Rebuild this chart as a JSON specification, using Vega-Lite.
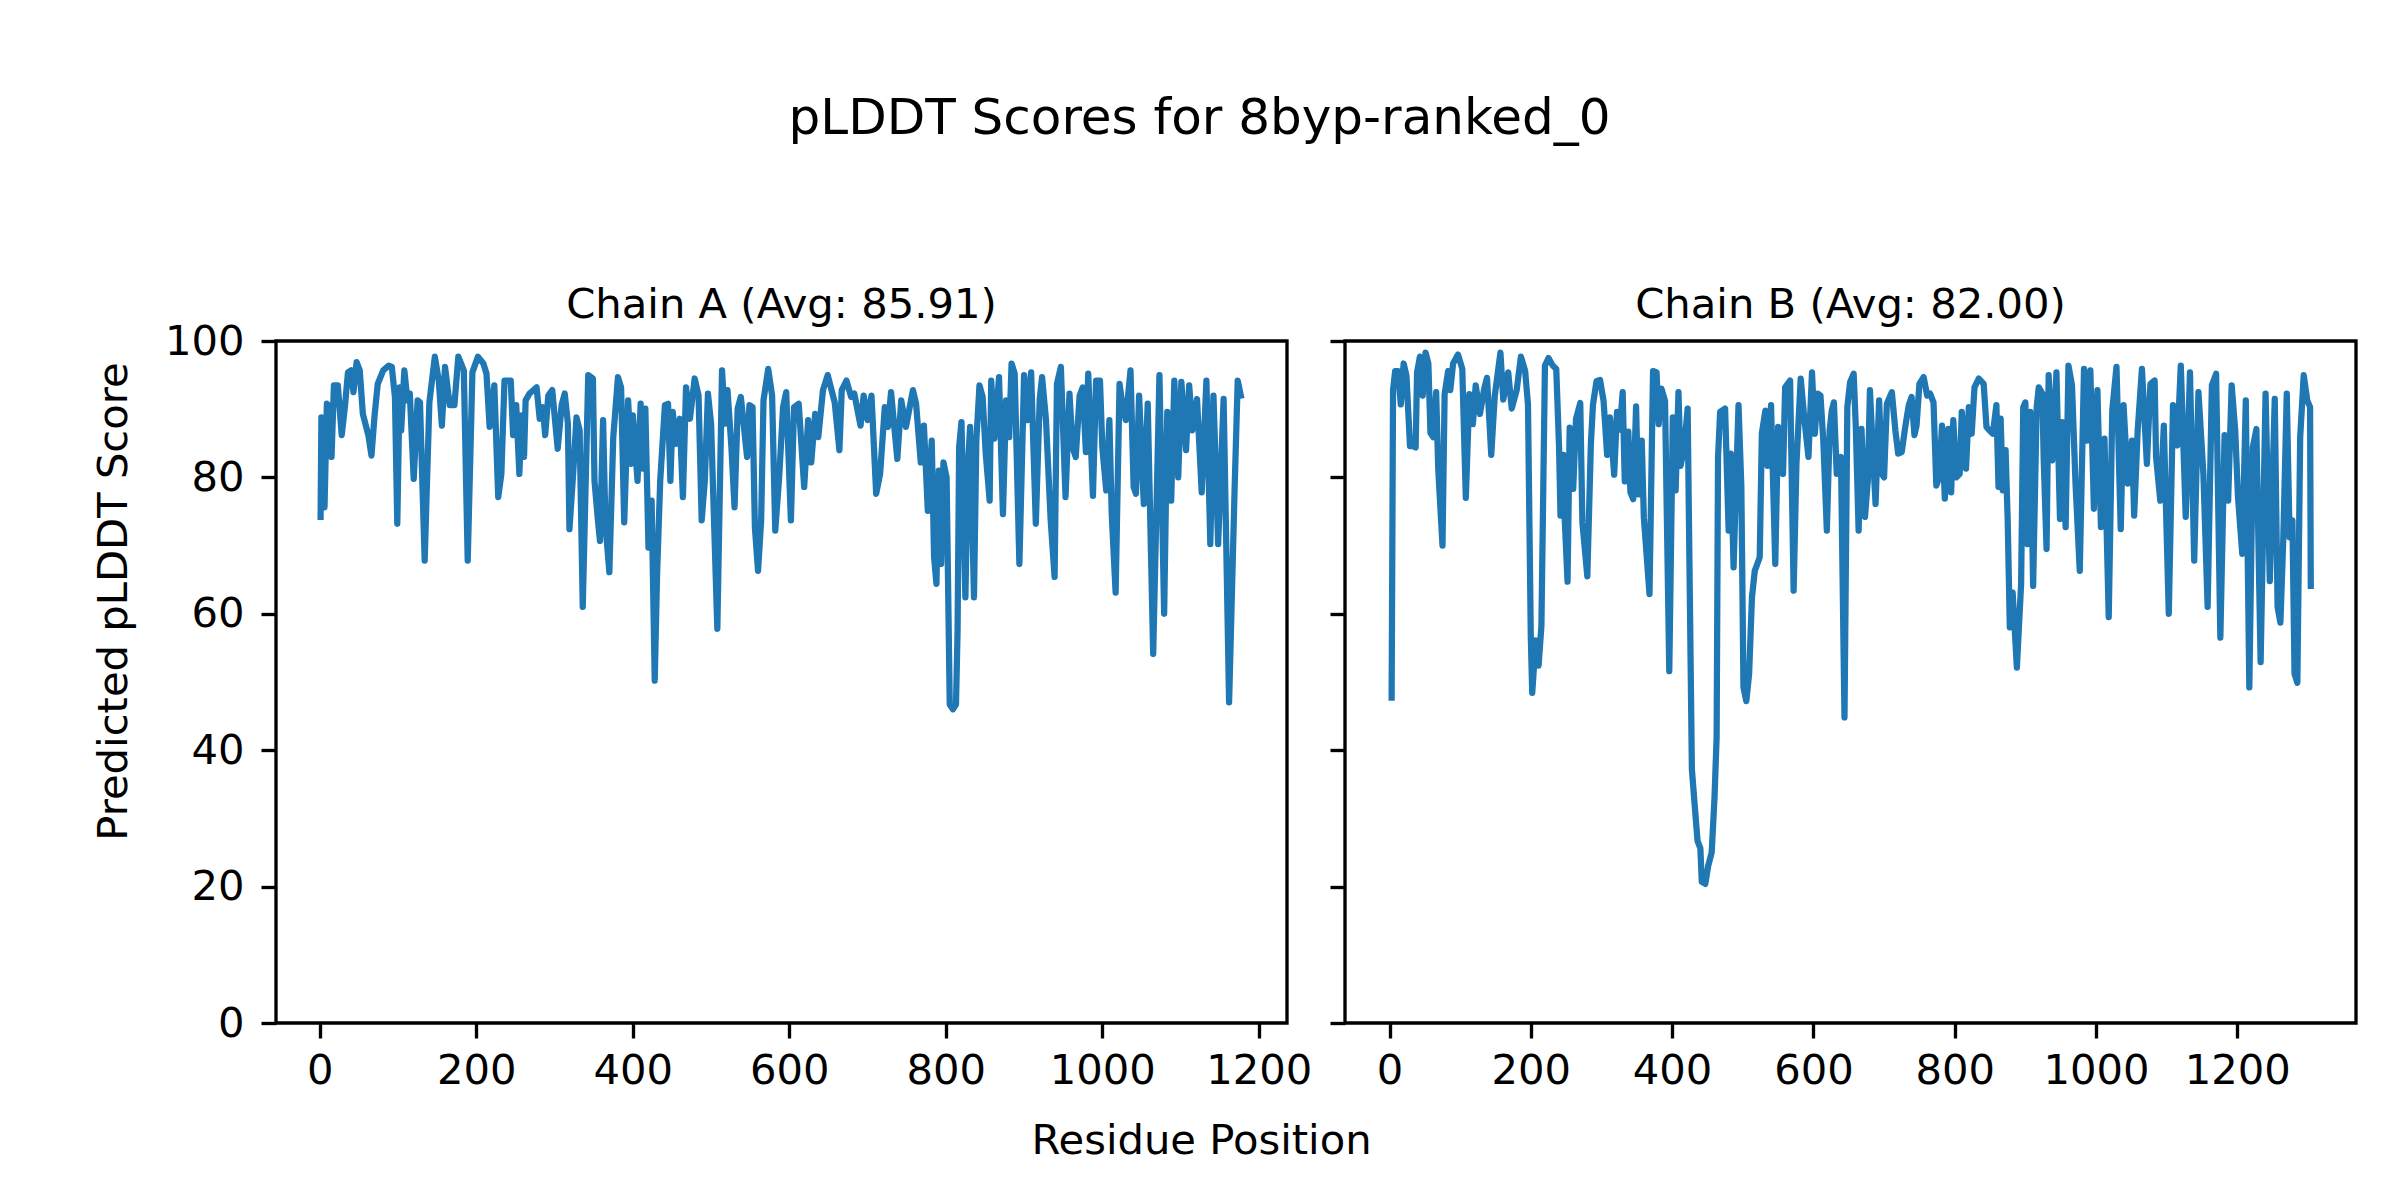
{
  "$schema": "https://vega.github.io/schema/vega-lite/v6.json",
  "background": "white",
  "padding": {"left": 91, "top": 93, "right": 45, "bottom": 30},
  "title": {"text": "pLDDT Scores for 8byp-ranked_0", "fontSize": 50, "anchor": "middle", "offset": 99, "baseline": "alphabetic", "dx": -25},
  "datasets": {
    "A": [
      {"r":1,"v":74.2},{"r":2,"v":88.8},{"r":6,"v":75.6},{"r":9,"v":90.8},{"r":11,"v":90.6},{"r":15,"v":83},{"r":18,"v":93.5},{"r":23,"v":93.5},{"r":28,"v":86.2},{"r":32,"v":90.3},{"r":36,"v":95.4},{"r":40,"v":95.7},{"r":43,"v":92.5},{"r":47,"v":96.9},{"r":51,"v":95.7},{"r":55,"v":89.3},{"r":62,"v":86.2},{"r":66,"v":83.2},{"r":70,"v":89.1},{"r":74,"v":93.7},{"r":81,"v":95.7},{"r":88,"v":96.4},{"r":92,"v":96.2},{"r":96,"v":91.8},{"r":99,"v":73.2},{"r":102,"v":93.2},{"r":104,"v":86.9},{"r":108,"v":95.7},{"r":112,"v":91.3},{"r":115,"v":92.3},{"r":120,"v":79.8},{"r":125,"v":91.3},{"r":128,"v":91},{"r":134,"v":67.8},{"r":140,"v":91},{"r":147,"v":97.7},{"r":152,"v":94.2},{"r":156,"v":87.6},{"r":160,"v":96.2},{"r":166,"v":90.6},{"r":172,"v":90.6},{"r":177,"v":97.7},{"r":184,"v":95.7},{"r":189,"v":67.8},{"r":195,"v":95.4},{"r":202,"v":97.7},{"r":209,"v":96.7},{"r":213,"v":95.2},{"r":217,"v":87.4},{"r":223,"v":93.5},{"r":228,"v":77.1},{"r":232,"v":80.5},{"r":236,"v":94.2},{"r":244,"v":94.2},{"r":247,"v":86.2},{"r":251,"v":90.6},{"r":255,"v":80.5},{"r":258,"v":89.1},{"r":261,"v":83},{"r":263,"v":91.3},{"r":268,"v":92.3},{"r":277,"v":93.2},{"r":281,"v":88.6},{"r":285,"v":90.3},{"r":288,"v":86.2},{"r":292,"v":92},{"r":297,"v":92.8},{"r":304,"v":84.2},{"r":309,"v":90.6},{"r":313,"v":92.3},{"r":317,"v":87.9},{"r":319,"v":72.4},{"r":324,"v":81},{"r":328,"v":88.8},{"r":332,"v":86.9},{"r":336,"v":61},{"r":343,"v":95},{"r":349,"v":94.5},{"r":351,"v":79.5},{"r":355,"v":74.2},{"r":358,"v":70.7},{"r":362,"v":88.4},{"r":365,"v":73.2},{"r":370,"v":66.1},{"r":375,"v":85.9},{"r":381,"v":94.7},{"r":385,"v":93.2},{"r":389,"v":73.4},{"r":394,"v":91.3},{"r":398,"v":82},{"r":400,"v":89.1},{"r":406,"v":79.5},{"r":410,"v":90.8},{"r":413,"v":81.3},{"r":416,"v":90.1},{"r":420,"v":69.7},{"r":424,"v":76.6},{"r":428,"v":50.2},{"r":431,"v":65.8},{"r":435,"v":79.5},{"r":441,"v":90.6},{"r":445,"v":90.8},{"r":448,"v":79.5},{"r":451,"v":89.6},{"r":455,"v":84.9},{"r":460,"v":88.6},{"r":464,"v":77.1},{"r":468,"v":93.2},{"r":473,"v":88.6},{"r":479,"v":94.5},{"r":484,"v":92},{"r":488,"v":73.7},{"r":492,"v":79.5},{"r":496,"v":92.3},{"r":500,"v":87.9},{"r":508,"v":57.8},{"r":514,"v":95.7},{"r":518,"v":87.9},{"r":521,"v":92.8},{"r":526,"v":84.4},{"r":530,"v":75.6},{"r":534,"v":90.1},{"r":538,"v":91.8},{"r":542,"v":87.4},{"r":546,"v":83},{"r":549,"v":90.6},{"r":553,"v":90.3},{"r":556,"v":72.7},{"r":560,"v":66.3},{"r":564,"v":73.7},{"r":567,"v":91.3},{"r":573,"v":95.9},{"r":578,"v":92},{"r":582,"v":72.2},{"r":587,"v":80},{"r":592,"v":90.3},{"r":596,"v":92.5},{"r":602,"v":73.7},{"r":606,"v":90.3},{"r":612,"v":90.8},{"r":619,"v":78.6},{"r":624,"v":88.4},{"r":628,"v":82.2},{"r":633,"v":89.3},{"r":637,"v":85.9},{"r":643,"v":92.8},{"r":649,"v":95},{"r":658,"v":91},{"r":664,"v":84},{"r":667,"v":92.8},{"r":673,"v":94.2},{"r":679,"v":91.8},{"r":683,"v":92.3},{"r":691,"v":87.6},{"r":695,"v":92},{"r":700,"v":88.4},{"r":705,"v":92},{"r":711,"v":77.6},{"r":716,"v":80.5},{"r":722,"v":90.3},{"r":726,"v":87.4},{"r":730,"v":92.5},{"r":738,"v":82.7},{"r":743,"v":91.3},{"r":749,"v":87.4},{"r":758,"v":92.8},{"r":762,"v":90.8},{"r":768,"v":82.2},{"r":772,"v":87.6},{"r":777,"v":75.1},{"r":782,"v":85.4},{"r":785,"v":68.3},{"r":788,"v":64.4},{"r":791,"v":81},{"r":794,"v":67.3},{"r":797,"v":82.2},{"r":801,"v":80},{"r":805,"v":46.7},{"r":809,"v":46},{"r":813,"v":46.7},{"r":815,"v":57.5},{"r":817,"v":84.4},{"r":820,"v":88.1},{"r":825,"v":62.4},{"r":828,"v":81},{"r":831,"v":87.4},{"r":836,"v":62.4},{"r":839,"v":85.4},{"r":843,"v":93.5},{"r":847,"v":91.8},{"r":851,"v":83.5},{"r":856,"v":76.6},{"r":858,"v":94.2},{"r":862,"v":85.7},{"r":868,"v":94.7},{"r":873,"v":74.6},{"r":877,"v":91.3},{"r":881,"v":85.9},{"r":884,"v":96.7},{"r":888,"v":95.2},{"r":894,"v":67.3},{"r":900,"v":95},{"r":905,"v":88.4},{"r":909,"v":95.4},{"r":915,"v":73.2},{"r":920,"v":91.5},{"r":923,"v":94.7},{"r":928,"v":88.4},{"r":934,"v":73.7},{"r":939,"v":65.4},{"r":942,"v":93.7},{"r":947,"v":96.2},{"r":953,"v":77.1},{"r":958,"v":92.3},{"r":962,"v":84.4},{"r":966,"v":83},{"r":971,"v":92},{"r":975,"v":93.2},{"r":979,"v":83.7},{"r":982,"v":95.2},{"r":988,"v":77.3},{"r":992,"v":94.2},{"r":997,"v":94.2},{"r":1000,"v":84.4},{"r":1005,"v":78.1},{"r":1009,"v":88.4},{"r":1012,"v":74.6},{"r":1017,"v":63.1},{"r":1022,"v":93.7},{"r":1026,"v":90.3},{"r":1030,"v":88.4},{"r":1036,"v":95.7},{"r":1040,"v":78.6},{"r":1043,"v":77.6},{"r":1047,"v":92},{"r":1053,"v":76.1},{"r":1058,"v":90.8},{"r":1065,"v":54.1},{"r":1073,"v":95},{"r":1079,"v":60},{"r":1083,"v":89.6},{"r":1088,"v":76.6},{"r":1092,"v":94.2},{"r":1097,"v":80},{"r":1101,"v":94},{"r":1107,"v":84},{"r":1111,"v":93.5},{"r":1115,"v":86.9},{"r":1121,"v":91.5},{"r":1127,"v":77.8},{"r":1133,"v":94.2},{"r":1138,"v":70.2},{"r":1142,"v":92},{"r":1148,"v":70.2},{"r":1155,"v":91.5},{"r":1162,"v":47},{"r":1169,"v":78.1},{"r":1173,"v":94.2},{"r":1177,"v":92}
    ],
    "B": [
      {"r":3,"v":47.7},{"r":5,"v":92.8},{"r":8,"v":95.6},{"r":12,"v":95.6},{"r":16,"v":90.7},{"r":20,"v":96.7},{"r":24,"v":94.9},{"r":29,"v":84.6},{"r":33,"v":84.6},{"r":37,"v":84.4},{"r":39,"v":95.4},{"r":43,"v":97.7},{"r":47,"v":92},{"r":51,"v":98.3},{"r":55,"v":96.7},{"r":58,"v":86.5},{"r":62,"v":85.9},{"r":66,"v":92.5},{"r":69,"v":81.2},{"r":75,"v":70},{"r":78,"v":92.2},{"r":83,"v":95.6},{"r":86,"v":92.8},{"r":90,"v":96.7},{"r":97,"v":98},{"r":103,"v":95.9},{"r":108,"v":77},{"r":113,"v":92.2},{"r":118,"v":87.8},{"r":122,"v":93.5},{"r":128,"v":89.3},{"r":134,"v":93},{"r":138,"v":94.6},{"r":144,"v":83.3},{"r":149,"v":92},{"r":157,"v":98.3},{"r":161,"v":91.4},{"r":168,"v":95.4},{"r":173,"v":90.1},{"r":180,"v":92.8},{"r":186,"v":97.7},{"r":192,"v":95.6},{"r":196,"v":90.7},{"r":200,"v":56.6},{"r":202,"v":48.4},{"r":207,"v":56.1},{"r":211,"v":52.4},{"r":215,"v":58.2},{"r":220,"v":96.4},{"r":225,"v":97.5},{"r":231,"v":96.4},{"r":236,"v":95.9},{"r":240,"v":84.4},{"r":242,"v":74.4},{"r":246,"v":83.3},{"r":248,"v":73.9},{"r":252,"v":64.7},{"r":255,"v":87.3},{"r":260,"v":78.3},{"r":264,"v":88.6},{"r":270,"v":90.9},{"r":273,"v":73.4},{"r":280,"v":65.5},{"r":285,"v":84.9},{"r":288,"v":90.7},{"r":293,"v":94.1},{"r":298,"v":94.3},{"r":303,"v":91.2},{"r":308,"v":83.3},{"r":312,"v":88.8},{"r":318,"v":80.4},{"r":322,"v":89.6},{"r":326,"v":87},{"r":330,"v":92.5},{"r":333,"v":79.4},{"r":338,"v":86.7},{"r":341,"v":77.8},{"r":345,"v":76.8},{"r":349,"v":90.4},{"r":352,"v":77.5},{"r":357,"v":85.4},{"r":360,"v":74.1},{"r":368,"v":62.9},{"r":373,"v":95.6},{"r":378,"v":95.4},{"r":381,"v":87.8},{"r":385,"v":93},{"r":390,"v":91.2},{"r":396,"v":51.6},{"r":401,"v":88.8},{"r":405,"v":78.1},{"r":409,"v":92.5},{"r":412,"v":81.7},{"r":417,"v":84.4},{"r":422,"v":90.1},{"r":425,"v":63.4},{"r":428,"v":37.2},{"r":432,"v":31.9},{"r":436,"v":26.7},{"r":440,"v":25.6},{"r":442,"v":20.7},{"r":447,"v":20.4},{"r":451,"v":23},{"r":456,"v":25},{"r":460,"v":33},{"r":463,"v":41.9},{"r":465,"v":83},{"r":468,"v":89.6},{"r":475,"v":90.1},{"r":480,"v":72.2},{"r":483,"v":83.5},{"r":487,"v":66.8},{"r":490,"v":77.1},{"r":494,"v":90.6},{"r":498,"v":78.6},{"r":501,"v":49.2},{"r":505,"v":47.2},{"r":509,"v":51.2},{"r":513,"v":62.4},{"r":517,"v":66.3},{"r":524,"v":68.3},{"r":527,"v":86.4},{"r":532,"v":89.8},{"r":535,"v":81.7},{"r":540,"v":90.6},{"r":546,"v":67.3},{"r":550,"v":87.4},{"r":557,"v":80.5},{"r":560,"v":93.2},{"r":567,"v":94.2},{"r":572,"v":63.4},{"r":576,"v":82},{"r":582,"v":94.5},{"r":587,"v":88.8},{"r":593,"v":83},{"r":598,"v":95.4},{"r":602,"v":86.4},{"r":606,"v":92.3},{"r":610,"v":92},{"r":614,"v":85.4},{"r":619,"v":72.2},{"r":623,"v":86.9},{"r":626,"v":89.8},{"r":629,"v":91},{"r":633,"v":80.5},{"r":639,"v":83},{"r":644,"v":44.8},{"r":648,"v":90.3},{"r":652,"v":94},{"r":657,"v":95.2},{"r":660,"v":87.4},{"r":664,"v":72.2},{"r":668,"v":87.1},{"r":673,"v":74.2},{"r":677,"v":79.5},{"r":680,"v":92.8},{"r":685,"v":82},{"r":688,"v":76.1},{"r":693,"v":91.3},{"r":697,"v":80.5},{"r":700,"v":80},{"r":704,"v":90.8},{"r":711,"v":92.5},{"r":716,"v":86.9},{"r":720,"v":83.5},{"r":725,"v":83.7},{"r":730,"v":87.4},{"r":735,"v":90.6},{"r":739,"v":91.8},{"r":743,"v":86.2},{"r":746,"v":87.6},{"r":750,"v":93.7},{"r":756,"v":94.7},{"r":761,"v":92},{"r":765,"v":92.3},{"r":770,"v":91},{"r":774,"v":78.8},{"r":778,"v":80},{"r":782,"v":87.6},{"r":786,"v":76.9},{"r":791,"v":87.1},{"r":795,"v":77.8},{"r":798,"v":88.4},{"r":802,"v":80},{"r":807,"v":80.5},{"r":810,"v":89.6},{"r":816,"v":81.3},{"r":820,"v":90.3},{"r":824,"v":86.4},{"r":828,"v":93.2},{"r":834,"v":94.5},{"r":841,"v":93.7},{"r":845,"v":87.4},{"r":849,"v":86.9},{"r":854,"v":86.4},{"r":859,"v":90.6},{"r":862,"v":78.6},{"r":865,"v":88.6},{"r":868,"v":78.1},{"r":872,"v":84},{"r":875,"v":73.7},{"r":878,"v":58},{"r":882,"v":63.1},{"r":888,"v":52.1},{"r":894,"v":64.4},{"r":897,"v":90.3},{"r":900,"v":91},{"r":903,"v":70.2},{"r":907,"v":89.6},{"r":911,"v":64.1},{"r":916,"v":90.3},{"r":919,"v":93.2},{"r":924,"v":92.3},{"r":926,"v":82.5},{"r":930,"v":69.5},{"r":933,"v":95},{"r":938,"v":82.5},{"r":944,"v":95.4},{"r":949,"v":73.9},{"r":952,"v":88.1},{"r":957,"v":72.7},{"r":961,"v":96.4},{"r":966,"v":93.5},{"r":971,"v":79.1},{"r":977,"v":66.3},{"r":983,"v":95.9},{"r":987,"v":85.4},{"r":992,"v":95.7},{"r":997,"v":75.4},{"r":1002,"v":92.8},{"r":1007,"v":72.7},{"r":1012,"v":85.7},{"r":1018,"v":59.5},{"r":1023,"v":89.8},{"r":1029,"v":96.2},{"r":1035,"v":72.4},{"r":1039,"v":90.6},{"r":1045,"v":79.1},{"r":1051,"v":85.4},{"r":1054,"v":74.4},{"r":1059,"v":86.9},{"r":1065,"v":95.9},{"r":1072,"v":82},{"r":1077,"v":93.7},{"r":1083,"v":94.2},{"r":1085,"v":83},{"r":1091,"v":76.6},{"r":1096,"v":87.6},{"r":1103,"v":60},{"r":1109,"v":90.6},{"r":1115,"v":84.7},{"r":1120,"v":96.4},{"r":1127,"v":74.2},{"r":1133,"v":95.4},{"r":1139,"v":67.8},{"r":1145,"v":92.5},{"r":1152,"v":80.5},{"r":1158,"v":61},{"r":1164,"v":93.5},{"r":1170,"v":95.2},{"r":1176,"v":56.5},{"r":1182,"v":86.2},{"r":1187,"v":76.6},{"r":1192,"v":93.5},{"r":1197,"v":86.9},{"r":1201,"v":77.1},{"r":1207,"v":68.8},{"r":1212,"v":91.3},{"r":1217,"v":49.2},{"r":1222,"v":84.4},{"r":1227,"v":87.1},{"r":1233,"v":52.9},{"r":1240,"v":92.3},{"r":1246,"v":64.8},{"r":1253,"v":91.5},{"r":1257,"v":61},{"r":1261,"v":58.7},{"r":1265,"v":70.7},{"r":1270,"v":92.3},{"r":1274,"v":71.2},{"r":1278,"v":73.7},{"r":1281,"v":51.2},{"r":1285,"v":49.9},{"r":1289,"v":85.9},{"r":1294,"v":95},{"r":1299,"v":91.3},{"r":1303,"v":90.3},{"r":1304,"v":64.1}
    ]
  },
  "spacing": 58,
  "bounds": "flush",
  "hconcat": [
    {
      "width": 1011,
      "height": 682,
      "title": {"text": "Chain A (Avg: 85.91)", "fontSize": 41.7, "offset": -39, "baseline": "alphabetic", "anchor": "middle", "frame": "group"},
      "data": {"name": "A"},
      "mark": {"type": "line", "color": "#1f77b4", "strokeWidth": 6.25, "strokeJoin": "round", "strokeCap": "square", "clip": true},
      "encoding": {
        "x": {"field": "r", "type": "quantitative", "scale": {"domain": [-56, 1236], "nice": false, "zero": false},
              "axis": {"values": [0,200,400,600,800,1000,1200], "format": "d", "labelPadding": 12, "title": "Residue Position", "titleX": 925, "titleY": 130, "titleBaseline": "alphabetic", "titleAlign": "center", "titleAnchor": null}},
        "y": {"field": "v", "type": "quantitative", "scale": {"domain": [0, 100], "nice": false},
              "axis": {"values": [0,20,40,60,80,100], "format": "d", "labelPadding": 17, "title": "Predicted pLDDT Score", "titleX": -150, "titleY": 260, "titleAngle": 270, "titleBaseline": "alphabetic", "titleAlign": "center"}}
      }
    },
    {
      "width": 1011,
      "height": 682,
      "title": {"text": "Chain B (Avg: 82.00)", "fontSize": 41.7, "offset": -20, "baseline": "alphabetic", "anchor": "middle", "frame": "group"},
      "data": {"name": "B"},
      "mark": {"type": "line", "color": "#1f77b4", "strokeWidth": 6.25, "strokeJoin": "round", "strokeCap": "square", "clip": true},
      "encoding": {
        "x": {"field": "r", "type": "quantitative", "scale": {"domain": [-63, 1368], "nice": false, "zero": false},
              "axis": {"values": [0,200,400,600,800,1000,1200], "format": "d", "labelPadding": 12, "title": null}},
        "y": {"field": "v", "type": "quantitative", "scale": {"domain": [0, 100], "nice": false},
              "axis": {"values": [0,20,40,60,80,100], "labels": false, "title": null}}
      }
    }
  ],
  "config": {
    "view": {"stroke": "black", "strokeWidth": 3.33},
    "axis": {"domain": false, "grid": false, "ticks": true, "tickSize": 15, "tickWidth": 3.33, "tickColor": "black",
             "labelFont": "DejaVu Sans", "labelFontSize": 41.7, "labelColor": "black", "labelFlush": false, "labelOverlap": false,
             "titleFont": "DejaVu Sans", "titleFontSize": 41.7, "titleFontWeight": "normal", "titleColor": "black"},
    "title": {"font": "DejaVu Sans", "fontWeight": "normal", "color": "black"}
  }
}
